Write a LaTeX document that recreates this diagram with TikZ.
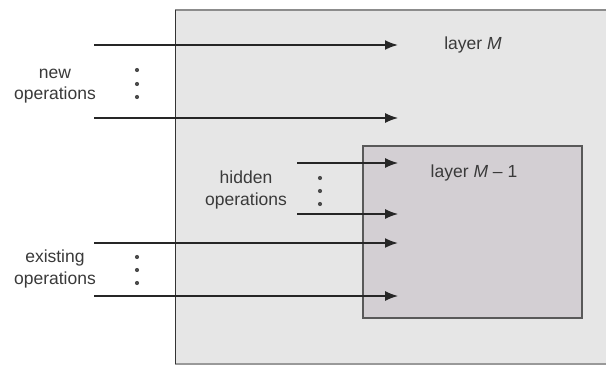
\documentclass[tikz,border=0pt]{standalone}
\usepackage{fontspec}
\setmainfont{Liberation Sans}
\usetikzlibrary{arrows.meta}
\definecolor{outerfill}{HTML}{E6E6E6}
\definecolor{innerfill}{HTML}{D3CFD3}
\definecolor{txt}{HTML}{3A3A3A}
\tikzset{
  op/.style={-{Latex[length=13pt,width=10pt]}, line width=1.2pt, black!85},
  opthick/.style={op, line width=1.8pt},
  lbl/.style={text=txt, font=\fontsize{17.5}{21.5}\selectfont, align=center, inner sep=0pt},
  dotm/.style={circle, fill=black!70, inner sep=0pt, minimum size=4.2pt},
}
\begin{document}
\begin{tikzpicture}[x=1pt,y=-1pt]
\useasboundingbox (0,0) rectangle (606,367);
\fill[white] (0,0) rectangle (606,367);
% layer M
\fill[outerfill] (175,10) rectangle (606,364);
\draw[black!45, line width=2pt] (175,10) -- (606,10);
\draw[black!40, line width=2pt] (175,364) -- (606,364);
\draw[black!80, line width=1pt] (175,10) -- (175,364);
% layer M-1
\draw[fill=innerfill, draw=black!65, line width=1.5pt] (363,146) rectangle (582,318);
% labels
\node[lbl] (lM) at (473,45) {layer \textit{M}};
\node[lbl] (lM1) at (474,173) {layer \textit{M} -- 1};
\node[lbl, anchor=east] (newops) at (96,86) {new\\operations};
\node[lbl] (hidops) at (246,190) {hidden\\operations};
\node[lbl, anchor=east] (exops) at (96,269) {existing\\operations};
% dots
\foreach \y [count=\i] in {70,84,97} \node[dotm] (nd\i) at (137,\y) {};
\foreach \y [count=\i] in {178,191,204} \node[dotm] (hd\i) at (320,\y) {};
\foreach \y [count=\i] in {257,270,283} \node[dotm] (ed\i) at (137,\y) {};
% arrow endpoints
\coordinate (s1) at (94,45);   \coordinate (t1) at (398,45);
\coordinate (s2) at (94,118);  \coordinate (t2) at (398,118);
\coordinate (s3) at (297,163); \coordinate (t3) at (398,163);
\coordinate (s4) at (297,214); \coordinate (t4) at (398,214);
\coordinate (s5) at (94,243);  \coordinate (t5) at (398,243);
\coordinate (s6) at (94,296);  \coordinate (t6) at (398,296);
\draw[opthick] (s1) -- (t1);
\draw[op] (s2) -- (t2);
\draw[op] (s3) -- (t3);
\draw[op] (s4) -- (t4);
\draw[opthick] (s5) -- (t5);
\draw[op] (s6) -- (t6);
\end{tikzpicture}
\end{document}
